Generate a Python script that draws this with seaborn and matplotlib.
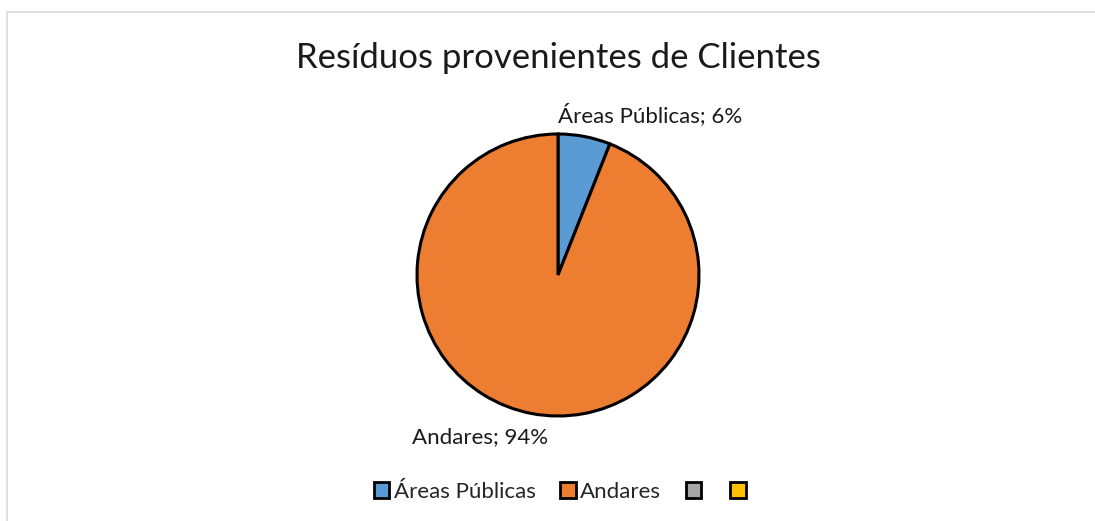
import numpy as np
import pandas as pd
import matplotlib
matplotlib.use("Agg")
import matplotlib.pyplot as plt
import seaborn as sns
from matplotlib.patches import Patch
from matplotlib.lines import Line2D

# data
categories = ["Áreas Públicas", "Andares", "", ""]
values = [6, 94, 0, 0]
colors = ["#5B9BD5", "#ED7D31", "#A5A5A5", "#FFC000"]

sns.set_theme(style="white")
plt.rcParams['font.family'] = ['Lato', 'DejaVu Sans']

W, H = 1095, 521
fig = plt.figure(figsize=(W / 100, H / 100), dpi=100)
ax = fig.add_axes([0, 0, 1, 1])

# only the non-zero slices are drawn
df = pd.DataFrame({"cat": categories, "val": values, "col": colors})
shown = df[df["val"] > 0]
wedges, _ = ax.pie(shown["val"], colors=shown["col"], startangle=90, counterclock=False,
                   wedgeprops=dict(edgecolor="black", linewidth=2.2), radius=1)

# place pie: centre at (558, 275) px, radius 141 px
r = 141.0
cx, cy = 558, H - 275
ax.set_xlim(-cx / r, (W - cx) / r)
ax.set_ylim(-cy / r, (H - cy) / r)
ax.set_aspect("equal")
ax.axis("off")

# data labels
ax.text(0.0, 1.135, f"{shown['cat'].iloc[0]}; {shown['val'].iloc[0]}%", ha="left", va="center",
        fontsize=16, color="#1a1a1a")
ax.text(-0.55, -1.15, f"{shown['cat'].iloc[1]}; {shown['val'].iloc[1]}%", ha="center", va="center",
        fontsize=16, color="#1a1a1a")

fig.text(558 / W, 1 - 58 / H, "Resíduos provenientes de Clientes", ha="center", va="center",
         fontsize=25, color="#1a1a1a")

handles = [Patch(facecolor=c, edgecolor="black", linewidth=2) for c in colors]
fig.legend(handles, categories, loc="center", bbox_to_anchor=(562 / W, 1 - 492 / H), ncol=4,
           frameon=False, fontsize=16, handlelength=0.7, handleheight=0.7, handletextpad=0.2,
           columnspacing=1.1)

# chart area border (top and left edges only are visible)
fig.lines.append(Line2D([7 / W, 7 / W, 1], [0, 1 - 12 / H, 1 - 12 / H], transform=fig.transFigure,
                        color="#D9D9D9", linewidth=1.2))

fig.savefig("out.png", dpi=100, facecolor="white")
